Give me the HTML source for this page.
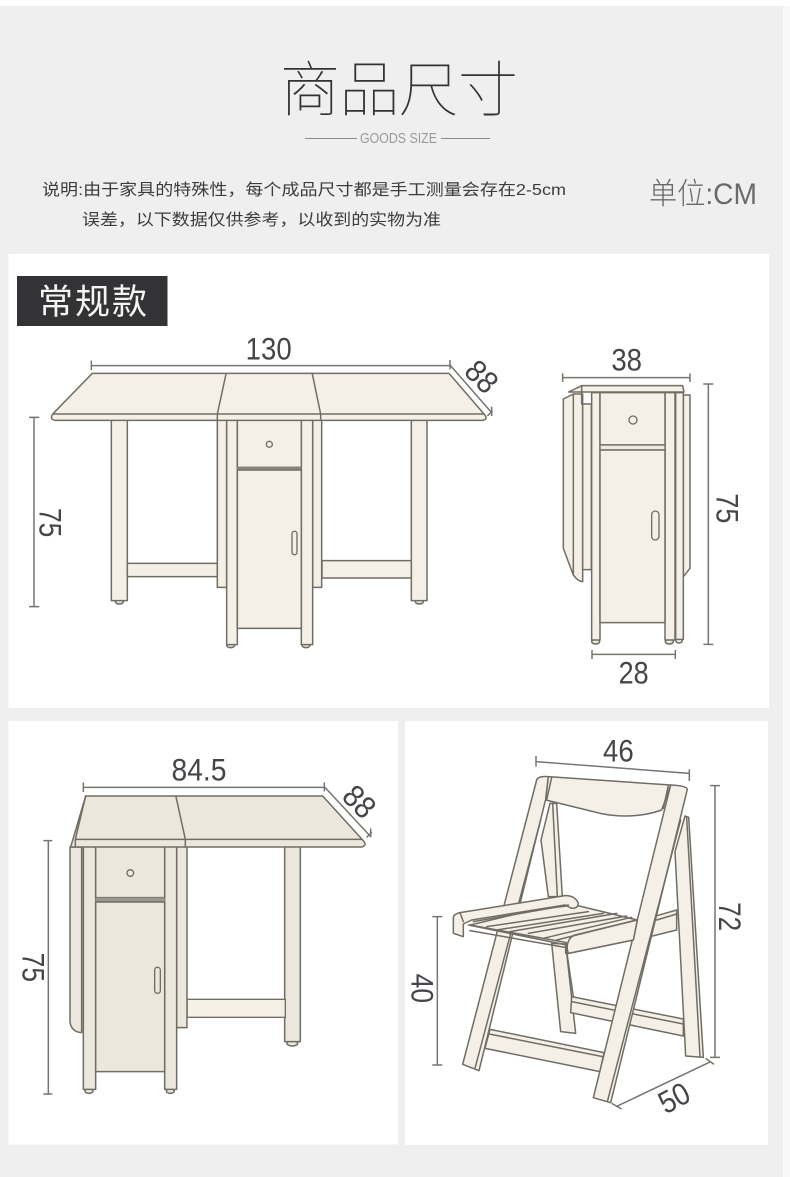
<!DOCTYPE html>
<html><head><meta charset="utf-8"><style>
html,body{margin:0;padding:0;background:#fff}
svg{display:block}
text{font-family:"Liberation Sans","Noto Sans CJK SC",sans-serif}
.f{fill:#f5f0e7;stroke:#706d65;stroke-width:4.5;stroke-linejoin:round}
.g{fill:#ebe7dc;stroke:#706d65;stroke-width:4.5;stroke-linejoin:round}
.l{fill:none;stroke:#706d65;stroke-width:4.5;stroke-linecap:round;stroke-linejoin:round}
.d{fill:none;stroke:#77756f;stroke-width:4.5}
.t{fill:#45454a;font-size:94px;text-anchor:middle}
</style></head><body>
<svg width="790" height="1177" viewBox="0 0 790 1177" xmlns="http://www.w3.org/2000/svg">
<rect width="790" height="1177" fill="#fff"/>
<rect x="0" y="6" width="783" height="1171" fill="#efefef"/>
<rect x="783" y="6" width="7" height="1171" fill="#f8f8f8"/>
<rect x="8.500" y="254" width="760.500" height="454" fill="#fff"/>
<rect x="8.500" y="721" width="389.500" height="423.500" fill="#fff"/>
<rect x="405" y="721" width="363" height="424" fill="#fff"/>

<text x="399" y="111" font-size="60" fill="#333" text-anchor="middle" textLength="238" style='font-family:"Noto Sans CJK SC",sans-serif;font-weight:100'>商品尺寸</text>
<path d="M305 138.500H357M441 138.500H490" stroke="#8a8a8a" stroke-width="1"/>
<text x="360" y="143" font-size="14.500" fill="#9a9a9a" textLength="77" lengthAdjust="spacingAndGlyphs">GOODS SIZE</text>
<text x="42" y="195" font-size="16" fill="#3c3c3c" textLength="524" lengthAdjust="spacingAndGlyphs">说明:由于家具的特殊性，每个成品尺寸都是手工测量会存在2-5cm</text>
<text x="82" y="225" font-size="16" fill="#3c3c3c" textLength="359" lengthAdjust="spacingAndGlyphs">误差，以下数据仅供参考，以收到的实物为准</text>
<text x="649" y="204" font-size="30" fill="#6a6a6a" textLength="108" lengthAdjust="spacingAndGlyphs" style='font-weight:300'>单位:CM</text>

<rect x="17" y="276" width="150.500" height="50" fill="#333335"/>
<text x="38" y="314" font-size="35" fill="#f4f4f4" textLength="109" style='font-family:"Noto Sans CJK SC",sans-serif;font-weight:400'>常规款</text>

<!-- Front view -->
<g transform="translate(0,250) scale(.33333)">
<path class="d" d="M274 347H1350M274 332V360M1350 330V358M1350 345L1475 488M1462 498L1478 482M1475 470V498"/>
<text class="t" x="806" y="329" textLength="138" lengthAdjust="spacingAndGlyphs">130</text>
<text class="t" transform="translate(1445,380) rotate(45)" y="32" textLength="96" lengthAdjust="spacingAndGlyphs">88</text>
<path class="d" d="M102 502V1070M87 502H118M87 1070H118"/>
<text class="t" transform="translate(152,818) rotate(90)" y="33" textLength="88" lengthAdjust="spacingAndGlyphs">75</text>

<ellipse class="g" cx="358" cy="1055" rx="12" ry="7"/><ellipse class="g" cx="1258" cy="1055" rx="12" ry="7"/>
<ellipse class="g" cx="692" cy="1186" rx="12" ry="7"/><ellipse class="g" cx="918" cy="1186" rx="12" ry="7"/>
<rect class="f" x="334" y="510" width="48" height="542"/>
<rect class="f" x="1234" y="510" width="47" height="542"/>
<rect class="f" x="382" y="940" width="270" height="40"/>
<rect class="f" x="966" y="932" width="268" height="52"/>
<rect class="f" x="652" y="510" width="28" height="502"/>
<rect class="f" x="938" y="510" width="27" height="502"/>
<rect class="f" x="680" y="510" width="32" height="674"/>
<rect class="f" x="904" y="510" width="34" height="674"/>
<rect class="f" x="712" y="510" width="192" height="142"/>
<rect x="712" y="652" width="192" height="9" fill="#8b887f"/>
<rect class="f" x="712" y="660" width="192" height="475"/>
<circle cx="808" cy="583" r="9" fill="#f5f0e7" stroke="#706d65" stroke-width="4"/>
<rect x="876" y="844" width="15" height="70" rx="7" fill="#f5f0e7" stroke="#706d65" stroke-width="4"/>
<path class="f" d="M277 370H1347L1452 492Q1466 508 1448 511H166Q146 508 160 490Z"/>
<path class="l" d="M160 492H1452M678 372L652 492V510M937 372L962 492V510"/>
</g>

<!-- Side view -->
<g transform="translate(510,330) scale(.33333)">
<path class="d" d="M158 143H540M158 130V156M540 130V156"/>
<text class="t" x="350" y="122" textLength="92" lengthAdjust="spacingAndGlyphs">38</text>
<path class="d" d="M595 162V943M580 162H610M580 943H610"/>
<text class="t" transform="translate(653,535) rotate(90)" y="33" textLength="90" lengthAdjust="spacingAndGlyphs">75</text>
<path class="d" d="M246 973H496M246 960V987M496 960V987"/>
<text class="t" x="371" y="1060" textLength="90" lengthAdjust="spacingAndGlyphs">28</text>

<path class="f" d="M520 195H540V715L520 740Z"/>
<path class="f" d="M160 207L190 192H218V755Q205 755 190 735L160 655Z"/>
<path class="l" d="M190 192V735"/>
<rect class="f" x="218" y="222" width="26" height="497"/>
<ellipse class="g" cx="257" cy="935" rx="12" ry="7"/><ellipse class="g" cx="478" cy="935" rx="12" ry="7"/><ellipse class="g" cx="507" cy="932" rx="10" ry="7"/>
<rect class="f" x="245" y="188" width="25" height="742"/>
<rect class="f" x="465" y="188" width="30" height="742"/>
<rect class="f" x="497" y="188" width="23" height="740"/>
<rect class="f" x="270" y="188" width="195" height="157"/>
<rect x="270" y="345" width="195" height="15" fill="#f0ebe0" stroke="#706d65" stroke-width="4"/>
<rect class="f" x="270" y="360" width="195" height="518"/>
<circle cx="369" cy="270" r="12" fill="#f5f0e7" stroke="#706d65" stroke-width="4"/>
<rect x="425" y="543" width="22" height="87" rx="11" fill="#f5f0e7" stroke="#706d65" stroke-width="4"/>
<path class="f" d="M176 186L215 167H518L522 186Z"/>
<path class="l" d="M215 167V222"/>
</g>

<!-- Half-open view -->
<g transform="translate(0,720) scale(.33333)">
<path class="d" d="M250 202H973M250 187V216M973 187V214M975 202L1112 350M1100 352L1116 336M1112 325V352"/>
<text class="t" x="597" y="182" textLength="165" lengthAdjust="spacingAndGlyphs">84.5</text>
<text class="t" transform="translate(1078,245) rotate(45)" y="32" textLength="96" lengthAdjust="spacingAndGlyphs">88</text>
<path class="d" d="M145 362V1122M130 362H157M130 1122H157"/>
<text class="t" transform="translate(100,742) rotate(90)" y="33" textLength="88" lengthAdjust="spacingAndGlyphs">75</text>

<path class="g" d="M210 381H245V938Q213 935 210 905Z"/>
<ellipse class="g" cx="267" cy="1113" rx="12" ry="7"/><ellipse class="g" cx="511" cy="1113" rx="12" ry="7"/><ellipse class="g" cx="877" cy="970" rx="16" ry="8"/>
<rect class="g" x="854" y="380" width="47" height="585"/>
<rect x="561" y="838" width="295" height="54" fill="#f6efe5" stroke="#706d65" stroke-width="4"/>
<rect class="g" x="530" y="380" width="31" height="543"/>
<rect class="g" x="250" y="380" width="37" height="728"/>
<rect class="g" x="494" y="380" width="36" height="728"/>
<rect class="g" x="287" y="380" width="207" height="153"/>
<rect x="287" y="533" width="207" height="13" fill="#9a978d"/>
<rect class="g" x="287" y="546" width="207" height="509"/>
<circle cx="391" cy="459" r="10" fill="#ebe7dc" stroke="#706d65" stroke-width="4"/>
<rect x="464" y="742" width="17" height="78" rx="8" fill="#ebe7dc" stroke="#706d65" stroke-width="4"/>
<path class="g" d="M257 228H968L1088 360Q1104 376 1085 381H212Z"/>
<path class="l" d="M228 358H1085M528 230L556 358V381M257 228L226 358V381"/>
</g>

<!-- Chair -->
<g transform="translate(400,720) scale(.33333)">
<path class="d" d="M408 125L868 160M408 108V140M868 148V183"/>
<text class="t" x="655" y="125" textLength="92" lengthAdjust="spacingAndGlyphs">46</text>
<path class="d" d="M945 197V1012M930 197H960M930 1012H960"/>
<text class="t" transform="translate(990,590) rotate(90)" y="33" textLength="87" lengthAdjust="spacingAndGlyphs">72</text>
<path class="d" d="M112 590V1035M97 590H127M97 1035H127"/>
<text class="t" transform="translate(68,805) rotate(90)" y="33" textLength="88" lengthAdjust="spacingAndGlyphs">40</text>
<path class="d" d="M648 1160L932 1025M635 1150L665 1167M917 1015L942 1033"/>
<text class="t" transform="translate(822,1133) rotate(-28)" y="33" textLength="92" lengthAdjust="spacingAndGlyphs">50</text>

<!-- rear frame -->
<path class="f" d="M825 395L855 288L866 292L910 1012L857 1008Z"/>
<path class="l" d="M860 292L900 1010"/>
<path class="f" d="M450 250L470 250L487 530L445 530L423 360Z"/>
<path class="l" d="M458 250L472 530"/>
<path class="f" d="M760 590L830 570V630L750 650Z"/>
<path class="l" d="M770 600L830 582"/>
<path class="f" d="M455 670L497 672L527 940L482 935Z"/>
<path class="l" d="M497 672L520 830"/>
<path class="f" d="M515 830L850 897V948L512 878Z"/>
<path class="l" d="M515 845L850 912"/>
<path class="f" d="M270 928L612 998L600 1055L255 985Z"/>
<path class="l" d="M268 942L608 1010"/>

<!-- legs and back -->
<path class="f" d="M410 180Q415 167 445 170L437 238L237 1052L188 1033Z"/>
<path class="l" d="M225 1045L422 300"/>
<path class="f" d="M812 195Q860 197 862 208L632 1148L580 1133Z"/>
<path class="l" d="M622 1145L842 300"/>
<path class="f" d="M445 170L812 195L785 270Q700 300 600 280Q500 255 437 240Z"/>
<path class="l" d="M455 172L440 240M805 197L790 265"/>

<!-- seat -->
<path class="f" d="M210 615L500 668L505 700L700 660L712 600L525 555L400 570Z"/>
<path class="f" d="M160 592Q162 582 180 578L495 527Q525 526 535 550Q535 565 515 565L495 555L215 600L190 612V650L160 640Z"/>
<path class="l" d="M190 605L180 578M205 615L500 675M210 632L495 682"/>
<path class="f" d="M505 700Q498 680 505 665Q510 650 525 645L712 600L700 660Z"/>
<path class="l" d="M220 605L505 555M260 620L565 575M290 630L610 580M330 635L650 580M385 640L680 588M430 655L695 592M470 660L710 600M497 672V700"/>
</g>
</svg>
</body></html>
